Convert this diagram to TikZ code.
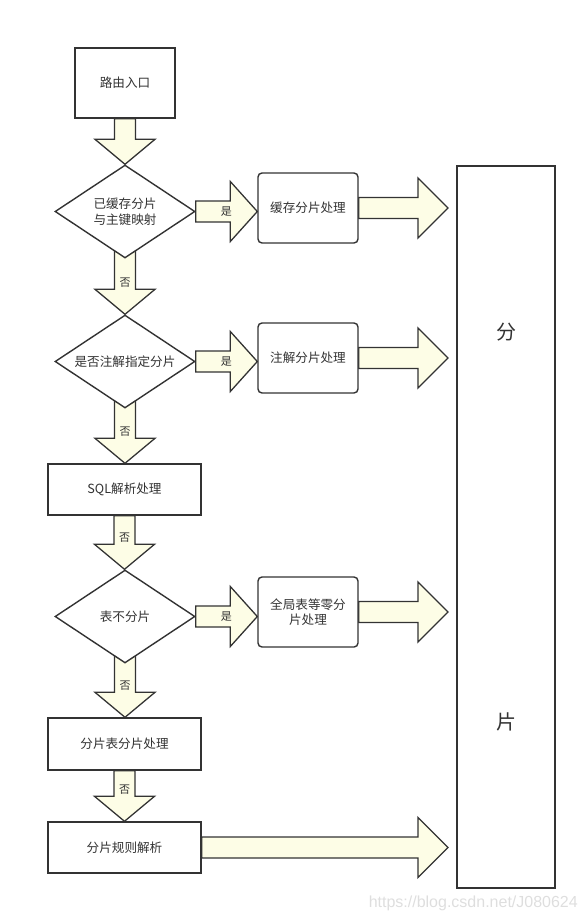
\documentclass[tikz,border=0pt]{standalone}
\usepackage{fontspec}
\setmainfont{Noto Sans CJK SC}
\newfontfamily\wmfont{Liberation Sans}
\usetikzlibrary{calc,shapes.geometric,backgrounds}
\definecolor{linec}{HTML}{333333}
\definecolor{fatfill}{HTML}{FDFDE6}
\definecolor{txtc}{HTML}{333333}
\tikzset{
  box/.style={draw=linec, line width=1.4pt, fill=white, inner sep=0pt, text=txtc, font=\fontsize{12.6}{15.5}\selectfont, align=center},
  rbox/.style={box, rounded corners=4pt},
  dia/.style={diamond, draw=linec, line width=1.4pt, fill=white, inner sep=0pt, aspect=1.5, minimum width=140pt, minimum height=93pt, text=txtc, font=\fontsize{12.6}{15.5}\selectfont, align=center},
  fat/.style={draw=linec, fill=fatfill, line width=1.3pt, line join=miter},
  albl/.style={text=txtc, font=\fontsize{11}{13}\selectfont, inner sep=0pt}
}
% down arrow: #1 start, #2 end, #3 label, #4 shaft start offset
\newcommand\flowdown[4]{%
  \filldraw[fat] let \p1=(#1), \p2=(#2) in
    (\x1-10.5pt,\y1+#4) -- (\x1-10.5pt,\y2+25pt) -- (\x1-30pt,\y2+25pt) -- (\x1,\y2)
    -- (\x1+30pt,\y2+25pt) -- (\x1+10.5pt,\y2+25pt) -- (\x1+10.5pt,\y1+#4) -- cycle
    (\x1,\y2+32pt) node[albl]{#3};}
% right arrow: #1 start, #2 end, #3 head length, #4 label
\newcommand\flowright[4]{%
  \filldraw[fat] let \p1=(#1), \p2=(#2) in
    (\x1,\y1-10.5pt) -- (\x2-#3,\y1-10.5pt) -- (\x2-#3,\y1-30pt) -- (\x2,\y1)
    -- (\x2-#3,\y1+30pt) -- (\x2-#3,\y1+10.5pt) -- (\x1,\y1+10.5pt) -- cycle
    (\x2-#3-4pt,\y1) node[albl]{#4};}
\begin{document}
\begin{tikzpicture}[x=1pt,y=-1pt]
\useasboundingbox (0,0) rectangle (586,921);
% nodes
\node[box, minimum width=100pt, minimum height=70pt] (entry) at (125,83) {路由入口};
\node[dia] (d1) at (125,211.5) {已缓存分片\\与主键映射};
\node[rbox, minimum width=100pt, minimum height=70pt] (c1) at (308,208) {缓存分片处理};
\node[dia] (d2) at (125,361.5) {是否注解指定分片};
\node[rbox, minimum width=100pt, minimum height=70pt, text width=88pt] (c2) at (308,358) {注解分片处理};
\node[box, minimum width=153pt, minimum height=51pt] (sql) at (124.5,489.5) {SQL解析处理};
\node[dia] (d3) at (125,616.5) {表不分片};
\node[rbox, minimum width=100pt, minimum height=70pt, text width=90pt] (c3) at (308,612) {全局表等零分\\片处理};
\node[box, minimum width=153pt, minimum height=52pt] (shard) at (124.5,744) {分片表分片处理};
\node[box, minimum width=153pt, minimum height=51pt] (rule) at (124.5,847.5) {分片规则解析};
\node[box, minimum width=98pt, minimum height=722pt] (tall) at (506,527) {};
\node[text=txtc, font=\fontsize{20}{24}\selectfont] (tfen) at (506,332) {分};
\node[text=txtc, font=\fontsize{20}{24}\selectfont] (tpian) at (506,722) {片};
\coordinate (t1) at (448,207);
\coordinate (t2) at (448,358);
\coordinate (t3) at (448,612);
\coordinate (t4) at (448,848);
\node[text=black!13, font=\wmfont\fontsize{16}{18}\selectfont, anchor=east, inner sep=0pt] (wm) at (578,903) {https://blog.csdn.net/J080624};
% arrows
\begin{scope}[on background layer]
\flowdown{entry.south}{d1.north}{}{0pt}
\flowdown{d1.south}{sql.north |- d2.north}{否}{12pt}
\flowdown{d2.south}{sql.north}{否}{12pt}
\flowdown{sql.south}{d3.north}{否}{0pt}
\flowdown{d3.south}{shard.north}{否}{12pt}
\flowdown{shard.south}{rule.north}{否}{0pt}
\flowright{d1.east}{c1.west}{27pt}{是}
\flowright{d2.east}{c2.west}{27pt}{是}
\flowright{d3.east}{c3.west}{27pt}{是}
\flowright{c1.east}{t1}{30pt}{}
\flowright{c2.east}{t2}{30pt}{}
\flowright{c3.east}{t3}{30pt}{}
\flowright{rule.east}{t4}{30pt}{}
\end{scope}
\end{tikzpicture}
\end{document}
